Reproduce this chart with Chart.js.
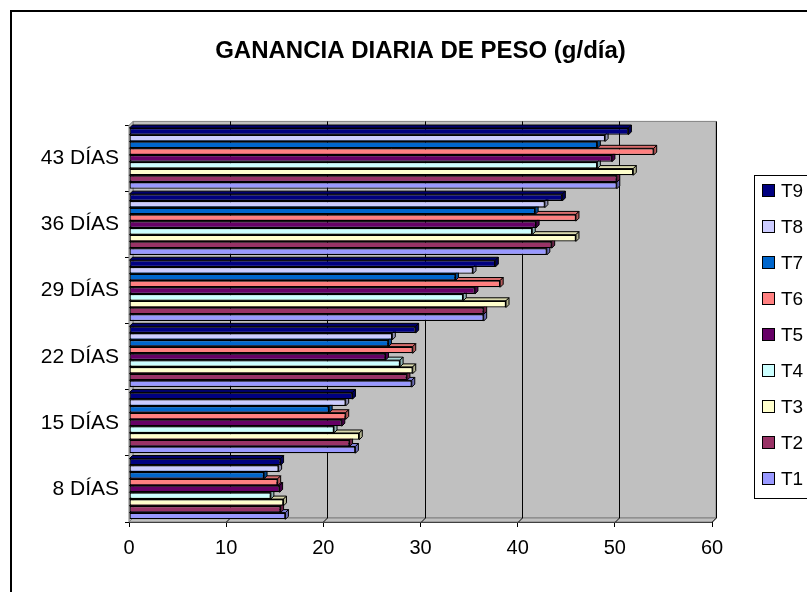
<!DOCTYPE html>
<html>
<head>
<meta charset="utf-8">
<title>Ganancia diaria de peso</title>
<script src="https://cdn.jsdelivr.net/npm/chart.js@4.4.1/dist/chart.umd.min.js"></script>
<style>
  html, body { margin: 0; padding: 0; background: #fff; }
</style>
</head>
<body>
<canvas id="chart" width="807" height="592"></canvas>
<script>
// categories, top to bottom
const categories = ['43 DÍAS', '36 DÍAS', '29 DÍAS', '22 DÍAS', '15 DÍAS', '8 DÍAS'];

// g/día per treatment, same order as categories
const t9 = [51.4, 44.6, 37.7, 29.5, 23.0, 15.6];
const t8 = [49.0, 42.8, 35.4, 27.1, 22.3, 15.4];
const t7 = [48.2, 41.8, 33.6, 26.7, 20.6, 13.9];
const t6 = [54.0, 46.0, 38.2, 29.2, 22.3, 15.3];
const t5 = [49.7, 41.9, 35.6, 26.4, 21.9, 15.5];
const t4 = [48.2, 41.5, 34.4, 27.9, 21.1, 14.6];
const t3 = [51.9, 46.0, 38.8, 29.2, 23.7, 15.9];
const t2 = [50.2, 43.5, 36.5, 28.6, 22.7, 15.6];
const t1 = [50.2, 43.0, 36.5, 29.1, 23.3, 16.1];

const seriesNames = ['T9', 'T8', 'T7', 'T6', 'T5', 'T4', 'T3', 'T2', 'T1'];
const seriesValues = [t9, t8, t7, t6, t5, t4, t3, t2, t1];
const seriesColors = ['#000080', '#ccccff', '#0066cc', '#ff8080', '#660066',
                      '#ccffff', '#ffffcc', '#993366', '#9999ff'];

const xTicks = [0, 10, 20, 30, 40, 50, 60];

const FONT = '"Liberation Sans", Arial, sans-serif';
Chart.defaults.font.family = FONT;
Chart.defaults.color = '#000';

const WX = 4, WY = -4;   // wall depth
const BD = 3;            // bar depth

function shade(hex, f) {
  const n = parseInt(hex.slice(1), 16);
  const c = [(n >> 16) & 255, (n >> 8) & 255, n & 255].map(v => Math.round(v * f));
  return 'rgb(' + c.join(',') + ')';
}

function poly(ctx, pts, fill) {
  ctx.beginPath();
  ctx.moveTo(pts[0][0], pts[0][1]);
  for (let i = 1; i < pts.length; i++) ctx.lineTo(pts[i][0], pts[i][1]);
  ctx.closePath();
  ctx.fillStyle = fill;
  ctx.fill();
  ctx.stroke();
}

// outer frame
const frame = {
  id: 'frame',
  beforeDraw(chart) {
    const ctx = chart.ctx;
    ctx.save();
    ctx.strokeStyle = '#000';
    ctx.lineWidth = 2;
    ctx.strokeRect(11, 11, 900, 700);
    ctx.restore();
  }
};

// back wall, side wall, floor and gridlines
const walls = {
  id: 'walls',
  beforeDatasetsDraw(chart) {
    const { ctx, chartArea: a, scales: { x } } = chart;
    ctx.save();
    ctx.lineWidth = 1;
    ctx.strokeStyle = '#808080';
    poly(ctx, [[a.left + WX, a.top + WY], [a.right + WX, a.top + WY],
               [a.right + WX, a.bottom + WY], [a.left + WX, a.bottom + WY]], '#c0c0c0');
    poly(ctx, [[a.left, a.top], [a.left + WX, a.top + WY],
               [a.left + WX, a.bottom + WY], [a.left, a.bottom]], '#c0c0c0');
    poly(ctx, [[a.left, a.bottom], [a.right, a.bottom],
               [a.right + WX, a.bottom + WY], [a.left + WX, a.bottom + WY]], '#c0c0c0');
    ctx.strokeStyle = '#000';
    xTicks.forEach(v => {
      if (v === 0) return;
      const px = Math.round(x.getPixelForValue(v)) + 0.5;
      ctx.beginPath();
      ctx.moveTo(px + WX, a.top + WY);
      ctx.lineTo(px + WX, a.bottom + WY);
      ctx.lineTo(px, a.bottom);
      ctx.stroke();
    });
    ctx.restore();
  },
  // top and end faces of each bar, drawn under its front face
  beforeDatasetDraw(chart, args) {
    const ctx = chart.ctx;
    const color = chart.data.datasets[args.index].backgroundColor;
    ctx.save();
    ctx.lineWidth = 1;
    ctx.strokeStyle = '#000';
    args.meta.data.forEach(bar => {
      const { x, y, base, height } = bar.getProps(['x', 'y', 'base', 'height'], true);
      const top = y - height / 2, bot = y + height / 2;
      poly(ctx, [[base, top], [x, top], [x + BD, top - BD], [base + BD, top - BD]], shade(color, 0.85));
      poly(ctx, [[x, top], [x + BD, top - BD], [x + BD, bot - BD], [x, bot]], shade(color, 0.7));
    });
    ctx.restore();
  }
};

// boxed legend on the right
const boxLegend = {
  id: 'boxLegend',
  afterDraw(chart) {
    const { ctx, chartArea: a } = chart;
    const left = a.right + 42, top = 175, rowH = 36;
    ctx.save();
    ctx.strokeStyle = '#000';
    ctx.lineWidth = 1;
    ctx.strokeRect(left + 0.5, top + 0.5, 120, 323);
    ctx.font = '19px ' + FONT;
    ctx.textBaseline = 'middle';
    chart.data.datasets.forEach((ds, i) => {
      const cy = top + 16 + i * rowH;
      ctx.fillStyle = ds.backgroundColor;
      ctx.fillRect(left + 8.5, cy - 6.5, 12, 12);
      ctx.strokeRect(left + 8.5, cy - 6.5, 12, 12);
      ctx.fillStyle = '#000';
      ctx.fillText(ds.label, left + 27, cy + 1);
    });
    ctx.restore();
  }
};

new Chart(document.getElementById('chart'), {
  type: 'bar',
  data: {
    labels: categories,
    datasets: seriesNames.map((name, i) => ({
      label: name,
      data: seriesValues[i],
      backgroundColor: seriesColors[i],
      borderColor: '#000',
      borderWidth: 1.3,
      borderSkipped: false,
      categoryPercentage: 0.92,
      barPercentage: 1.0
    }))
  },
  options: {
    indexAxis: 'y',
    responsive: false,
    animation: false,
    devicePixelRatio: 1,
    layout: { padding: { top: 12, left: 12, right: 95, bottom: 0 } },
    plugins: {
      legend: { display: false },
      tooltip: { enabled: false },
      title: {
        display: true,
        fullSize: false,
        text: 'GANANCIA DIARIA DE PESO (g/día)',
        color: '#000',
        font: { size: 24, weight: 'bold' },
        padding: { top: 25, bottom: 59.6 }
      }
    },
    scales: {
      x: {
        min: 0,
        max: 60,
        afterBuildTicks(s) { s.ticks = xTicks.map(v => ({ value: v })); },
        afterFit(s) { s.height = 70; },
        grid: { drawOnChartArea: false, tickLength: 5, color: '#000' },
        border: { color: '#000' },
        ticks: { font: { size: 20 }, color: '#000', padding: 9 }
      },
      y: {
        afterFit(s) { s.width = 117; },
        grid: { drawOnChartArea: false, offset: true, tickLength: 4, color: '#000' },
        border: { color: '#000' },
        ticks: { font: { size: 21 }, color: '#000', padding: 6 }
      }
    }
  },
  plugins: [frame, walls, boxLegend]
});
</script>
</body>
</html>
